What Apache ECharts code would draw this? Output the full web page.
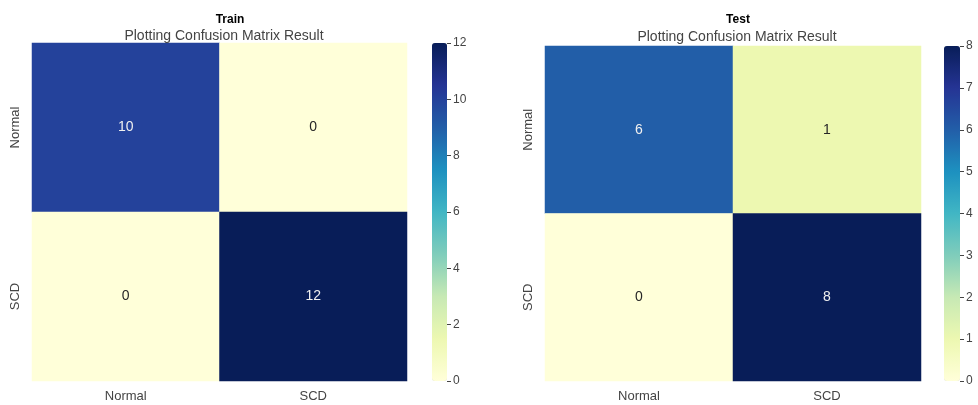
<!DOCTYPE html>
<html>
<head>
<meta charset="utf-8">
<script src="https://cdn.jsdelivr.net/npm/echarts@6/dist/echarts.min.js"></script>
<style>
html,body{margin:0;padding:0;background:#fff;}
#main{width:978px;height:405px;}
</style>
</head>
<body>
<div id="main"></div>
<script>
// 类别与数值
var labels = ['Normal', 'SCD'];
var trainMatrix = [[10, 0], [0, 12]]; // 行：真实，列：预测
var testMatrix = [[6, 1], [0, 8]];
var trainMax = 12, trainStep = 2;
var testMax = 8, testStep = 1;
var ylgnbu = ['#ffffd9', '#edf8b1', '#c7e9b4', '#7fcdbb', '#41b6c4', '#1d91c0', '#225ea8', '#253494', '#081d58'];

var font = 'Liberation Sans, Arial, sans-serif';

function toCells(m, max) {
    var out = [];
    for (var r = 0; r < m.length; r++) {
        for (var c = 0; c < m[r].length; c++) {
            var v = m[r][c];
            out.push({
                value: [c, r, v],
                label: { color: v / max > 0.5 ? '#f0f0f0' : '#262626' }
            });
        }
    }
    return out;
}

var grids = [
    { left: 32, top: 43, width: 375, height: 338 },
    { left: 545, top: 46, width: 376, height: 335 },
    { left: 432, top: 43, width: 15, height: 338 },
    { left: 944, top: 46, width: 16, height: 335 }
];

function catX(i) {
    return {
        type: 'category', gridIndex: i, data: labels,
        axisLine: { show: false }, axisTick: { show: false },
        axisLabel: { color: '#444', fontSize: 13, fontFamily: font, margin: 9 },
        splitArea: { show: false }
    };
}
function catY(i) {
    return {
        type: 'category', gridIndex: i, data: labels, inverse: true,
        axisLine: { show: false }, axisTick: { show: false },
        axisLabel: { color: '#444', fontSize: 13, fontFamily: font, rotate: 90, margin: 10 }
    };
}
function barX(i) {
    return { type: 'category', gridIndex: i, data: [''], show: false };
}
function barY(i, max, step) {
    return {
        type: 'value', gridIndex: i, min: 0, max: max, interval: step, position: 'right',
        axisLine: { show: false },
        axisTick: { show: true, length: 4, lineStyle: { color: '#444' } },
        splitLine: { show: false },
        axisLabel: { color: '#444', fontSize: 12, fontFamily: font, margin: 6 }
    };
}

var myChart = echarts.init(document.getElementById('main'));
var option = {
    backgroundColor: '#fff',
    animation: false,
    title: [
        { text: 'Train', left: 225, top: 9, textAlign: 'center',
          textStyle: { fontSize: 12, fontWeight: 'bold', color: '#000', fontFamily: font } },
        { text: 'Plotting Confusion Matrix Result', left: 219, top: 24, textAlign: 'center',
          textStyle: { fontSize: 14, fontWeight: 'normal', color: '#444', fontFamily: font } },
        { text: 'Test', left: 733, top: 9, textAlign: 'center',
          textStyle: { fontSize: 12, fontWeight: 'bold', color: '#000', fontFamily: font } },
        { text: 'Plotting Confusion Matrix Result', left: 732, top: 25, textAlign: 'center',
          textStyle: { fontSize: 14, fontWeight: 'normal', color: '#444', fontFamily: font } }
    ],
    grid: grids,
    xAxis: [catX(0), catX(1), barX(2), barX(3)],
    yAxis: [catY(0), catY(1), barY(2, trainMax, trainStep), barY(3, testMax, testStep)],
    visualMap: [
        { type: 'continuous', seriesIndex: 0, min: 0, max: trainMax, calculable: false,
          orient: 'vertical', left: 432, top: 43, itemWidth: 15, itemHeight: 338,
          padding: 0, text: ['', ''], showLabel: false, hoverLink: false, borderRadius: 0,
          inRange: { color: ylgnbu } },
        { type: 'continuous', seriesIndex: 1, min: 0, max: testMax, calculable: false,
          orient: 'vertical', left: 944, top: 46, itemWidth: 16, itemHeight: 335,
          padding: 0, text: ['', ''], showLabel: false, hoverLink: false, borderRadius: 0,
          inRange: { color: ylgnbu } }
    ],
    series: [
        { type: 'heatmap', xAxisIndex: 0, yAxisIndex: 0, data: toCells(trainMatrix, trainMax),
          label: { show: true, fontSize: 14, fontFamily: font } },
        { type: 'heatmap', xAxisIndex: 1, yAxisIndex: 1, data: toCells(testMatrix, testMax),
          label: { show: true, fontSize: 14, fontFamily: font } }
    ]
};
myChart.setOption(option);
</script>
</body>
</html>
